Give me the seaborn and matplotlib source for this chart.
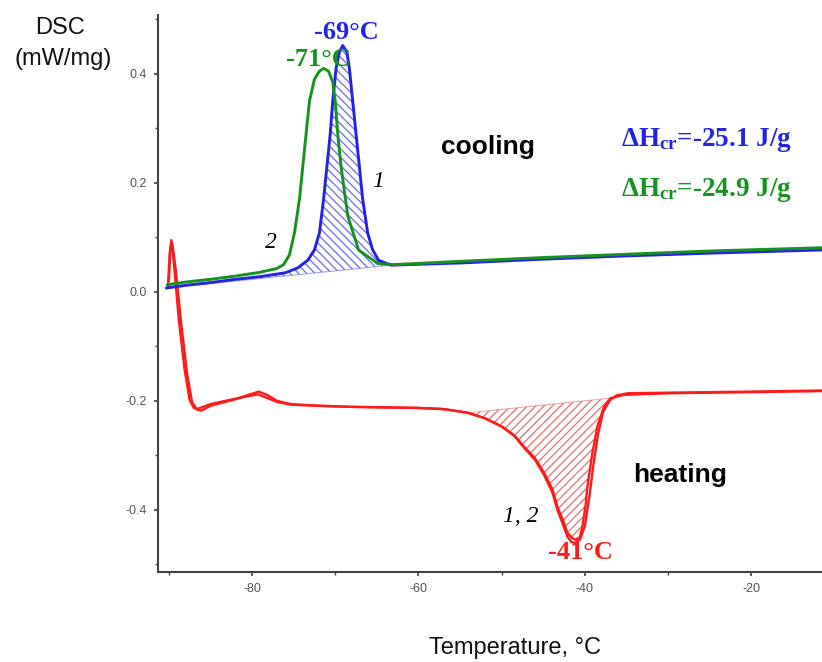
import numpy as np
import pandas as pd
import seaborn as sns
import matplotlib
matplotlib.use("Agg")
import matplotlib.pyplot as plt

# ---------------- data ----------------
cool1_T = [-90.3, -88, -85, -82, -79, -76, -74.5, -73.3, -72.5, -71.9, -71.4, -71.0, -70.6, -70.3,
           -69.9, -69.5, -69.1, -68.6, -68.3, -67.9, -67.5, -67.1, -66.7, -66.1, -65.5, -64.8,
           -63.3, -55, -45, -35, -25, -11.4]
cool1_V = [0.007, 0.012, 0.017, 0.023, 0.028, 0.035, 0.044, 0.058, 0.077, 0.108, 0.17, 0.23, 0.29, 0.35,
           0.41, 0.44, 0.452, 0.44, 0.41, 0.35, 0.29, 0.23, 0.17, 0.108, 0.077, 0.058,
           0.049, 0.053, 0.060, 0.066, 0.071, 0.077]

cool2_T = [-90.2, -88, -85, -82, -79, -77, -76.2, -75.5, -74.9, -74.3, -73.9, -73.5, -73.1, -72.5,
           -71.9, -71.4, -70.8, -70.3, -70.0, -69.7, -69.3, -68.5, -67.2, -64.9, -63.0, -55, -45,
           -35, -25, -11.4]
cool2_V = [0.013, 0.018, 0.023, 0.029, 0.036, 0.043, 0.050, 0.068, 0.108, 0.17, 0.23, 0.29, 0.35, 0.39,
           0.405, 0.41, 0.405, 0.385, 0.35, 0.29, 0.23, 0.14, 0.077, 0.052, 0.050, 0.056, 0.063,
           0.069, 0.075, 0.081]

heat1_T = [-90.1, -89.9, -89.7, -89.4, -88.8, -88.1, -87.5, -87.0, -86.6, -85, -82, -79.3, -78.3, -77,
           -75.3, -72, -68, -64, -60, -57, -54, -52, -50, -48.5, -47.3, -46, -44.9, -43.9, -43.3,
           -42.6, -42.1, -41.5, -41.1, -40.6, -40.3, -39.9, -39.7, -39.1, -38.5, -37.7, -36.9, -35.3,
           -30, -20, -11.4]
heat1_V = [0.009, 0.07, 0.095, 0.055, -0.051, -0.143, -0.198, -0.213, -0.215, -0.206, -0.196, -0.188,
           -0.194, -0.202, -0.207, -0.209, -0.211, -0.212, -0.213, -0.215, -0.222, -0.232, -0.247,
           -0.263, -0.284, -0.305, -0.332, -0.362, -0.394, -0.42, -0.442, -0.452, -0.455, -0.45,
           -0.431, -0.39, -0.358, -0.296, -0.247, -0.211, -0.195, -0.189, -0.186, -0.184, -0.182]

heat2_T = [-90.0, -89.8, -89.6, -89.2, -88.5, -87.8, -87.2, -86.6, -86.1, -85, -82, -79.2, -78.2, -77,
           -75.3, -72, -68, -64, -60, -57, -54, -52, -50, -48.5, -47.3, -46, -44.9, -43.9, -43.3,
           -42.6, -42.1, -41.6, -41.2, -40.6, -40.0, -39.4, -39.0, -38.4, -37.8, -37.0, -36.2, -34.8,
           -30, -20, -11.4]
heat2_V = [0.02, 0.08, 0.09, 0.045, -0.06, -0.15, -0.203, -0.216, -0.218, -0.209, -0.197, -0.183,
           -0.189, -0.200, -0.206, -0.209, -0.211, -0.212, -0.213, -0.215, -0.222, -0.232, -0.247,
           -0.264, -0.286, -0.308, -0.336, -0.368, -0.40, -0.428, -0.449, -0.459, -0.461, -0.455,
           -0.43, -0.37, -0.32, -0.26, -0.22, -0.199, -0.19, -0.186, -0.185, -0.183, -0.181]

# integration limits (baseline end points) for hatched areas
cool_base_T = [-90.3, -63.3]
heat_base_T = [-55.3, -36.5]

x_ticks = [-80, -60, -40, -20]
y_ticks = [-0.4, -0.2, 0.0, 0.2, 0.4]

# ---------------- style ----------------
sns.set_theme(style="ticks")
plt.rcParams['font.family'] = ['Liberation Sans', 'DejaVu Sans']
plt.rcParams['hatch.linewidth'] = 0.9
plt.rcParams['mathtext.fontset'] = 'custom'
plt.rcParams['mathtext.rm'] = 'Liberation Serif:bold'
plt.rcParams['mathtext.bf'] = 'Liberation Serif:bold'
plt.rcParams['mathtext.it'] = 'Liberation Serif:italic:bold'

BLUE = '#2323e6'
GREEN = '#15931f'
RED = '#ff1a1a'

fig = plt.figure(figsize=(8.22, 6.62), dpi=100)
ax = fig.add_axes([158 / 822, 90 / 662, (822 - 158) / 822, (572 - 15) / 662])

# hatched areas (curve segment closed by straight baseline)
def hatch_area(T, V, lims, color, hatch):
    seg_T = [t for t in T if lims[0] <= t <= lims[1]]
    seg_V = [v for t, v in zip(T, V) if lims[0] <= t <= lims[1]]
    ax.fill(seg_T, seg_V, facecolor='none', edgecolor=color, hatch=hatch, linewidth=0)
    ax.plot([seg_T[0], seg_T[-1]], [seg_V[0], seg_V[-1]], color=color, lw=0.8, alpha=0.6)

hatch_area(cool1_T, cool1_V, cool_base_T, '#6b6bf2', '\\\\\\\\')
hatch_area(heat1_T, heat1_V, heat_base_T, '#e07070', '////')

# curves
sns.lineplot(x=heat2_T, y=heat2_V, sort=False, estimator=None, color=RED, lw=1.7, ax=ax)
sns.lineplot(x=heat1_T, y=heat1_V, sort=False, estimator=None, color=RED, lw=1.7, ax=ax)
sns.lineplot(x=cool1_T, y=cool1_V, sort=False, estimator=None, color=BLUE, lw=2.1, ax=ax)
sns.lineplot(x=cool2_T, y=cool2_V, sort=False, estimator=None, color=GREEN, lw=2.1, ax=ax)

# axes
ax.set_xlim(-91.3, -11.5)
ax.set_ylim(-0.514, 0.508)
ax.set_xticks(x_ticks)
ax.set_xticklabels([str(t) for t in x_ticks])
ax.set_yticks(y_ticks)
ax.set_yticklabels([f"{t:.1f}" for t in y_ticks])
ax.set_xticks(np.arange(-90, -10, 10), minor=True)
ax.set_yticks(np.arange(-0.5, 0.55, 0.1), minor=True)
ax.tick_params(axis='both', which='major', labelsize=9, labelcolor='#555555', length=3,
               width=1.2, color='#444444', direction='out', pad=5)
ax.tick_params(axis='both', which='minor', length=2.5, width=1.0, color='#444444', direction='out')
ax.set_xlabel('')
ax.set_ylabel('')
sns.despine(ax=ax)
for s in ['left', 'bottom']:
    ax.spines[s].set_color('#444444')
    ax.spines[s].set_linewidth(1.5)

# annotations
serif_b = dict(family='Liberation Serif', weight='bold')
ax.text(-68.7, 0.476, '-69°C', color=BLUE, fontsize=19, ha='center', va='center', **serif_b)
ax.text(-72.0, 0.427, '-71°C', color=GREEN, fontsize=19, ha='center', va='center', **serif_b)
ax.text(-40.5, -0.479, '-41°C', color=RED, fontsize=19, ha='center', va='center', **serif_b)

serif_i = dict(family='Liberation Serif', style='italic')
ax.text(-64.8, 0.202, '1', color='black', fontsize=17, ha='center', va='center', **serif_i)
ax.text(-77.7, 0.09, '2', color='black', fontsize=17, ha='center', va='center', **serif_i)
ax.text(-47.7, -0.413, '1, 2', color='black', fontsize=17, ha='center', va='center', **serif_i)

ax.text(-51.7, 0.266, 'cooling', color='black', fontsize=19, weight='bold', ha='center', va='center')
ax.text(-28.6, -0.336, 'heating', color='black', fontsize=19, weight='bold', ha='center', va='center')

ax.text(-35.7, 0.279, r'$\Delta$H$_{\rm cr}$=-25.1 J/g', color=BLUE, fontsize=19.5,
        ha='left', va='center', **serif_b)
ax.text(-35.7, 0.187, r'$\Delta$H$_{\rm cr}$=-24.9 J/g', color=GREEN, fontsize=19.5,
        ha='left', va='center', **serif_b)

fig.text(60 / 822, 1 - 28 / 662, 'DSC', fontsize=17, ha='center', va='center', color='#111111')
fig.text(63 / 822, 1 - 59 / 662, '(mW/mg)', fontsize=17, ha='center', va='center', color='#111111')
fig.text(515 / 822, 1 - 648 / 662, 'Temperature, °C', fontsize=17, ha='center', va='center',
         color='#111111')

fig.savefig('out.png', dpi=100)
